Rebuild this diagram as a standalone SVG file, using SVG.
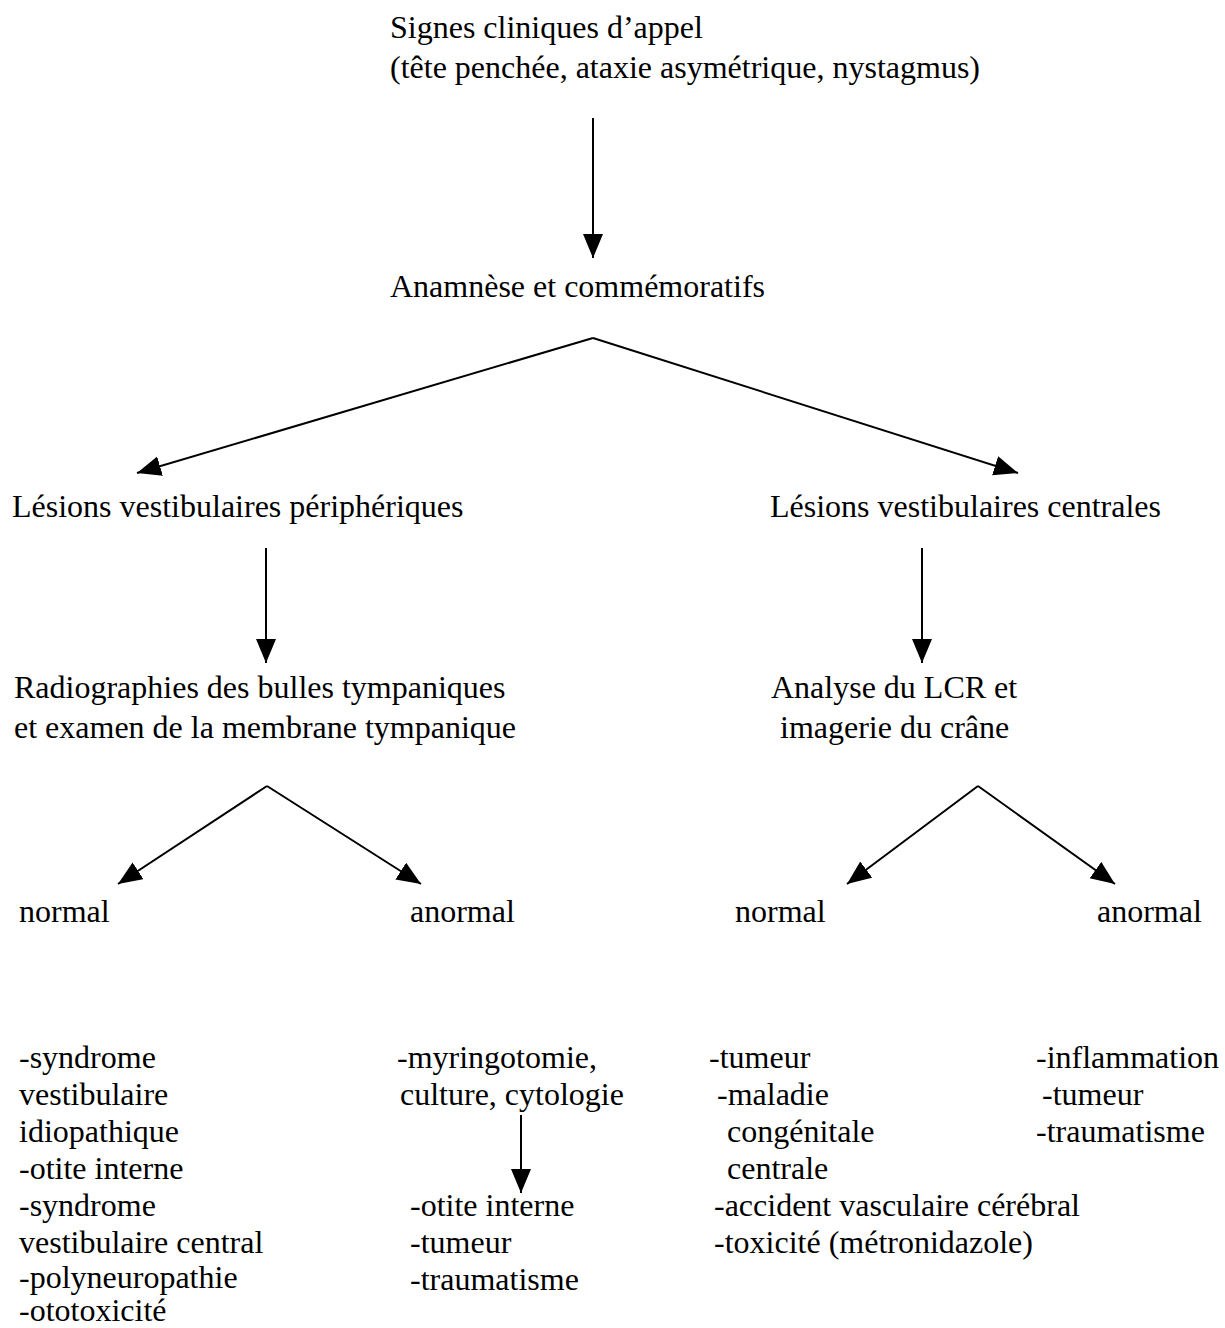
<svg xmlns="http://www.w3.org/2000/svg" width="1225" height="1328" viewBox="0 0 1225 1328">
<style>
text{font-family:"Liberation Serif","Times New Roman",serif;font-size:32px;fill:#000}
.c line{stroke:#000;stroke-width:2;marker-end:url(#ah)}
</style>
<defs>
<marker id="ah" markerUnits="userSpaceOnUse" markerWidth="26" markerHeight="22" refX="24" refY="10" orient="auto">
<path d="M0,0 L24,10 L0,20 Z" fill="#000"/>
</marker>
</defs>
<rect width="1225" height="1328" fill="#fff"/>
<g class="c" id="connectors">
<line x1="593" y1="118" x2="593" y2="258"/>
<line x1="593" y1="338" x2="137" y2="473"/>
<line x1="593" y1="338" x2="1018" y2="473"/>
<line x1="266" y1="548" x2="266" y2="663"/>
<line x1="922" y1="548" x2="922" y2="663"/>
<line x1="267" y1="786" x2="118" y2="884"/>
<line x1="267" y1="786" x2="421" y2="884"/>
<line x1="978" y1="786" x2="847" y2="884"/>
<line x1="978" y1="786" x2="1115" y2="884"/>
<line x1="521" y1="1115" x2="521" y2="1193"/>
</g>
<g id="signes"><text x="390" y="38">Signes cliniques d’appel</text><text x="390" y="78">(tête penchée, ataxie asymétrique, nystagmus)</text></g>
<g id="anamnese"><text x="390" y="297">Anamnèse et commémoratifs</text></g>
<g id="periph"><text x="12" y="517">Lésions vestibulaires périphériques</text></g>
<g id="centr"><text x="770" y="517">Lésions vestibulaires centrales</text></g>
<g id="radio"><text x="14" y="698">Radiographies des bulles tympaniques</text><text x="14" y="738">et examen de la membrane tympanique</text></g>
<g id="lcr"><text x="771" y="698">Analyse du LCR et</text><text x="780" y="738">imagerie du crâne</text></g>
<g id="normal1"><text x="19" y="922">normal</text></g>
<g id="anormal1"><text x="410" y="922">anormal</text></g>
<g id="normal2"><text x="735" y="922">normal</text></g>
<g id="anormal2"><text x="1097" y="922">anormal</text></g>
<g id="list1">
<text x="19" y="1068">-syndrome</text>
<text x="19" y="1105">vestibulaire</text>
<text x="19" y="1142">idiopathique</text>
<text x="19" y="1179">-otite interne</text>
<text x="19" y="1216">-syndrome</text>
<text x="19" y="1253">vestibulaire central</text>
<text x="19" y="1288">-polyneuropathie</text>
<text x="19" y="1321">-ototoxicité</text>
</g>
<g id="myring"><text x="397" y="1068">-myringotomie,</text><text x="400" y="1105">culture, cytologie</text></g>
<g id="list2">
<text x="410" y="1216">-otite interne</text>
<text x="410" y="1253">-tumeur</text>
<text x="410" y="1290">-traumatisme</text>
</g>
<g id="list3">
<text x="709" y="1068">-tumeur</text>
<text x="717" y="1105">-maladie</text>
<text x="727" y="1142">congénitale</text>
<text x="727" y="1179">centrale</text>
<text x="714" y="1216">-accident vasculaire cérébral</text>
<text x="714" y="1253">-toxicité (métronidazole)</text>
</g>
<g id="list4">
<text x="1036" y="1068">-inflammation</text>
<text x="1042" y="1105">-tumeur</text>
<text x="1036" y="1142">-traumatisme</text>
</g>
</svg>
